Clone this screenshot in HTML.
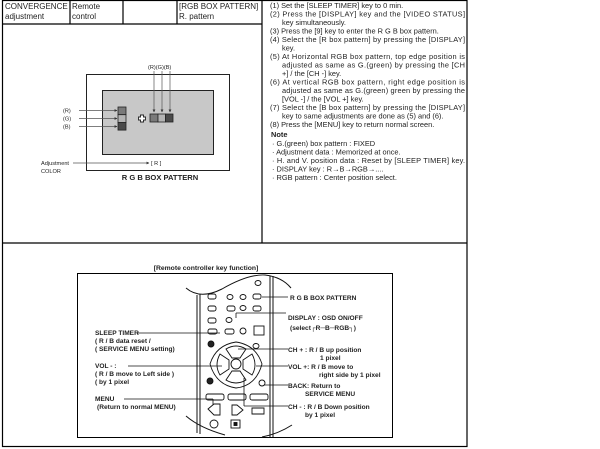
<!DOCTYPE html>
<html><head><meta charset="utf-8"><style>
html,body{margin:0;padding:0;background:#fff;width:600px;height:449px;overflow:hidden}
svg{display:block}
text{font-family:"Liberation Sans",Arial,sans-serif;fill:#222}
.t{font-size:7.4px}
.h{font-size:8px}
.b{font-size:6.6px;font-weight:bold}
.s{font-size:5.6px}
</style></head><body>
<svg width="600" height="449" viewBox="0 0 600 449" xmlns="http://www.w3.org/2000/svg">
<defs><marker id="a" markerWidth="4" markerHeight="4" refX="3.5" refY="2" orient="auto"><path d="M0,0L4,2L0,4z" fill="#333"/></marker></defs>
<g stroke="#000" stroke-width="1.2" fill="none">
<rect x="2.5" y="0.5" width="464.5" height="446"/>
<line x1="262" y1="0" x2="262" y2="243"/>
<line x1="2" y1="243" x2="467" y2="243"/>
<line x1="2" y1="24" x2="262" y2="24"/>
<line x1="70" y1="0" x2="70" y2="24"/>
<line x1="123" y1="0" x2="123" y2="24"/>
<line x1="177" y1="0" x2="177" y2="24"/>
</g>
<text class="h" x="5" y="9">CONVERGENCE</text><text class="h" x="5" y="19">adjustment</text>
<text class="h" x="72" y="9">Remote</text><text class="h" x="72" y="19">control</text>
<text class="h" x="179" y="9">[RGB BOX PATTERN]</text><text class="h" x="179" y="19">R. pattern</text>

<!-- box pattern -->
<rect x="86.5" y="74.5" width="143" height="96" fill="#fff" stroke="#222" stroke-width="1"/>
<rect x="102.5" y="90.5" width="111" height="64" fill="#c8c8c8" stroke="#222" stroke-width="1"/>
<g stroke="#222" stroke-width="0.8">
<rect x="118" y="107" width="8" height="7.7" fill="#7a7a7a"/>
<rect x="118" y="114.7" width="8" height="7.7" fill="#b4b4b4"/>
<rect x="118" y="122.4" width="8" height="7.7" fill="#4a4a4a"/>
<rect x="150" y="114" width="8" height="8" fill="#7a7a7a"/>
<rect x="158" y="114" width="7.5" height="8" fill="#b4b4b4"/>
<rect x="165.5" y="114" width="7.5" height="8" fill="#4a4a4a"/>
</g>
<path d="M140.5,115h3v2h2v3h-2v2h-3v-2h-2v-3h2z" fill="#fff" stroke="#222" stroke-width="0.9"/>
<g stroke="#555" stroke-width="0.7" marker-end="url(#a)">
<line x1="79" y1="110.5" x2="117" y2="110.5"/>
<line x1="79" y1="118.5" x2="117" y2="118.5"/>
<line x1="79" y1="126.5" x2="117" y2="126.5"/>
<line x1="154" y1="71" x2="154" y2="112"/>
<line x1="162" y1="71" x2="162" y2="112"/>
<line x1="170" y1="71" x2="170" y2="112"/>
<line x1="73" y1="163" x2="149" y2="163"/>
</g>
<g class="s"><text x="63" y="112.5">(R)</text><text x="63" y="120.5">(G)</text><text x="63" y="128.5">(B)</text>
<text x="148" y="69">(R)(G)(B)</text>
<text x="41" y="165">Adjustment</text><text x="41" y="173">COLOR</text><text x="151" y="165">[ R ]</text></g>
<text x="160" y="180" text-anchor="middle" style="font-size:7.6px;font-weight:bold">R G B BOX PATTERN</text>

<!-- instructions -->
<g class="t">
<text x="270" y="8">(1) Set the [SLEEP TIMER] key to 0 min.</text>
<text x="270" y="16.5" textLength="195">(2) Press the [DISPLAY] key and the [VIDEO STATUS]</text>
<text x="282" y="25">key simultaneously.</text>
<text x="270" y="33.5">(3) Press the [9] key to enter the R G B box pattern.</text>
<text x="270" y="42" textLength="195">(4) Select the [R box pattern] by pressing the [DISPLAY]</text>
<text x="282" y="50.5">key.</text>
<text x="270" y="59" textLength="195">(5) At Horizontal RGB box pattern, top edge position is</text>
<text x="282" y="67.5" textLength="183">adjusted as same as G.(green) by pressing the [CH</text>
<text x="282" y="76">+] / the [CH -] key.</text>
<text x="270" y="84.5" textLength="195">(6) At vertical RGB box pattern, right edge position is</text>
<text x="282" y="93" textLength="183">adjusted as same as G.(green) green by pressing the</text>
<text x="282" y="101.5">[VOL -] / the [VOL +] key.</text>
<text x="270" y="110" textLength="195">(7) Select the [B box pattern] by pressing the [DISPLAY]</text>
<text x="282" y="118.5">key to same adjustments are done as (5) and (6).</text>
<text x="270" y="127">(8) Press the [MENU] key to return normal screen.</text>
<text x="271" y="137" style="font-weight:bold">Note</text>
<text x="272" y="146">·  G.(green) box pattern : FIXED</text>
<text x="272" y="154.5">·  Adjustment data : Memorized at once.</text>
<text x="272" y="163" textLength="193">·  H. and V. position data : Reset by [SLEEP TIMER] key.</text>
<text x="272" y="171.5">·  DISPLAY key : R→B→RGB→....</text>
<text x="272" y="180">·  RGB pattern : Center position select.</text>
</g>

<!-- remote section -->
<text x="206" y="270" text-anchor="middle" style="font-size:6.8px;font-weight:bold">[Remote controller key function]</text>
<rect x="77.5" y="273.5" width="315" height="164" fill="none" stroke="#000" stroke-width="1"/>
<g stroke="#111" fill="none" stroke-width="1">
<path d="M186,288 Q200,300 222,289 Q248,274 265,275 Q282,277 291,288"/>
<path d="M186,416 Q200,428 225,435"/>
<path d="M262,437 Q278,434 292,425"/>
<line x1="197" y1="295" x2="197" y2="433"/><line x1="200" y1="294" x2="200" y2="434"/>
<line x1="270" y1="276" x2="270" y2="437"/><line x1="273" y1="276" x2="273" y2="437"/>
<!-- buttons -->
<g stroke-width="0.9">
<ellipse cx="258" cy="283" rx="3" ry="2.5"/>
<rect x="208" y="294" width="8" height="5" rx="2"/><ellipse cx="230" cy="297" rx="3" ry="2.5"/><ellipse cx="243" cy="297" rx="3" ry="2.5"/><rect x="253" y="294" width="8" height="5" rx="2"/>
<rect x="208" y="306" width="8" height="5" rx="2"/><rect x="227" y="306" width="8" height="5" rx="2"/><ellipse cx="243" cy="308" rx="3" ry="2.5"/><rect x="253" y="306" width="8" height="5" rx="2"/>
<rect x="208" y="318" width="8" height="5" rx="2"/><ellipse cx="229" cy="320" rx="3" ry="2.5"/>
<rect x="208" y="329" width="9" height="5" rx="2"/><rect x="225" y="329" width="9" height="5" rx="2"/><ellipse cx="243" cy="331" rx="3" ry="3"/><rect x="254" y="326" width="10" height="9"/>
<circle cx="211" cy="344" r="3" fill="#222"/><ellipse cx="256" cy="346" rx="3" ry="2.5"/>
<path d="M236,342 Q256,345 262,364 Q256,386 236,388 Q216,385 210,364 Q216,345 236,342z"/>
<path d="M226,349 Q236,343 246,349 L240,358 L232,358z"/><path d="M226,380 Q236,386 246,380 L240,371 L232,371z"/>
<path d="M220,354 Q214,365 220,375 L229,369 L229,360z"/><path d="M252,354 Q258,365 252,375 L243,369 L243,360z"/>
<circle cx="236" cy="364" r="5"/>
<circle cx="210" cy="381" r="3" fill="#222"/><ellipse cx="262" cy="383" rx="3" ry="3"/>
<rect x="206" y="394" width="18" height="6" rx="2"/><rect x="228" y="394" width="18" height="6" rx="2"/><rect x="250" y="394" width="18" height="6" rx="2"/>
<path d="M208,409l6,-5h6v11h-6z"/><path d="M232,405h5l6,5l-6,5h-5z"/><path d="M252,408h12v6h-12z"/>
<circle cx="214" cy="424" r="4"/><rect x="231" y="420" width="9" height="8"/><rect x="234" y="422.5" width="3" height="3" fill="#111"/>
</g>
<!-- leader lines -->
<g stroke-width="0.8">
<line x1="262" y1="297" x2="288" y2="297"/>
<line x1="236" y1="318" x2="236" y2="313"/><line x1="236" y1="313" x2="286" y2="313"/>
<line x1="137" y1="333" x2="220" y2="333"/>
<line x1="238" y1="349" x2="288" y2="349"/>
<line x1="128" y1="366" x2="222" y2="366"/>
<line x1="256" y1="366" x2="288" y2="366"/>
<line x1="264" y1="385" x2="288" y2="385"/>
<line x1="124" y1="399" x2="213" y2="399"/><line x1="213" y1="399" x2="213" y2="405"/>
<line x1="244" y1="406" x2="288" y2="406"/><line x1="244" y1="406" x2="244" y2="378"/>
</g>
</g>
<g class="b">
<text x="290" y="300">R G B BOX PATTERN</text>
<text x="288" y="320">DISPLAY : OSD ON/OFF</text>
<text x="290" y="330">(select┌R─B─RGB┐)</text>
<text x="288" y="352">CH +  : R / B up position</text>
<text x="320" y="360">1 pixel</text>
<text x="288" y="369">VOL +: R / B move to</text>
<text x="319" y="377">right side by 1 pixel</text>
<text x="288" y="388">BACK: Return to</text>
<text x="305" y="396">SERVICE MENU</text>
<text x="288" y="409">CH -   : R / B Down position</text>
<text x="305" y="417">by 1 pixel</text>
<text x="95" y="335">SLEEP TIMER</text>
<text x="95" y="343">( R / B data reset /</text>
<text x="95" y="351">( SERVICE MENU setting)</text>
<text x="95" y="368">VOL - :</text>
<text x="95" y="376">( R / B move to Left side )</text>
<text x="95" y="384">( by 1 pixel</text>
<text x="95" y="401">MENU</text>
<text x="97" y="409">(Return to normal MENU)</text>
</g>
</svg>
</body></html>
